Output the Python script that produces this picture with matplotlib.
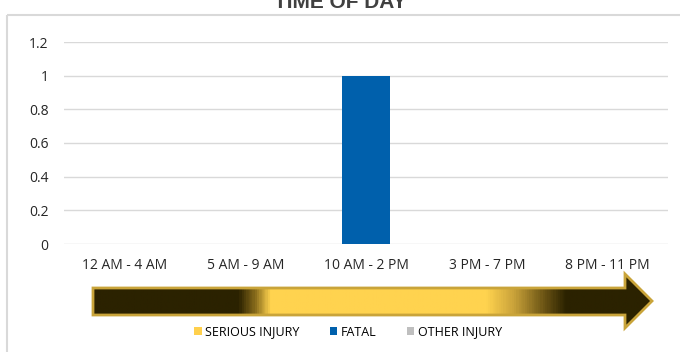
import numpy as np
import matplotlib.pyplot as plt
from matplotlib.patches import Polygon, Rectangle
from matplotlib.colors import LinearSegmentedColormap

categories = ['12 AM - 4 AM', '5 AM - 9 AM', '10 AM - 2 PM', '3 PM - 7 PM', '8 PM - 11 PM']
serious = [0, 0, 0, 0, 0]
fatal = [0, 0, 1, 0, 0]
other = [0, 0, 0, 0, 0]

plt.rcParams['font.family'] = ['Open Sans', 'DejaVu Sans']

fig = plt.figure(figsize=(6.8, 3.52), dpi=100)

# overlay in pixel coords for the frame, title and arrow
bg = fig.add_axes([0, 0, 1, 1], zorder=0)
bg.axis('off')
bg.add_patch(Rectangle((6.5, 14.5), 690, 360, fill=False, ec='#d9d9d9', lw=1.5))
bg.text(340, 2, 'TIME OF DAY', ha='center', va='center', fontsize=15,
        fontweight='bold', color='#404040', family='Liberation Sans')

# gradient arrow
x0, x1 = 93, 652
pts = [(x0, 288), (625, 288), (625, 274), (x1, 301), (625, 328), (625, 315), (x0, 315)]
bg.add_patch(Polygon(pts, closed=True, fc='none', ec='#c9a43a', lw=2, zorder=3))
dark = '#2b2200'
gold = '#ffd34f'
span = x1 - x0
stops = [(0.0, dark), ((238 - x0) / span, dark), ((255 - x0) / span, '#8a6d1c'),
         ((270 - x0) / span, gold), ((487 - x0) / span, gold), ((515 - x0) / span, '#c9a23a'),
         ((545 - x0) / span, '#6b5414'), ((567 - x0) / span, dark), (1.0, dark)]
cmap = LinearSegmentedColormap.from_list('tod', stops)
grad = np.linspace(0, 1, 600).reshape(1, -1)
im = bg.imshow(grad, cmap=cmap, extent=[x0, x1, 328, 274], aspect='auto', zorder=2)
im.set_clip_path(Polygon(pts, closed=True, transform=bg.transData))
bg.set_xlim(0, 680)
bg.set_ylim(352, 0)

ax = fig.add_axes([64 / 680, 108 / 352, 604 / 680, 202 / 352], zorder=1)
ax.patch.set_alpha(0)
x = np.arange(len(categories))
w = 0.4
ax.bar(x, serious, w, color='#ffd04d', label='SERIOUS INJURY')
ax.bar(x, fatal, w, color='#0060ac', label='FATAL')
ax.bar(x, other, w, color='#bfbfbf', label='OTHER INJURY')
ax.set_xlim(-0.5, len(categories) - 0.5)
ax.set_ylim(0, 1.2)
ax.set_yticks([0, 0.2, 0.4, 0.6, 0.8, 1, 1.2])
ax.set_yticklabels(['0', '0.2', '0.4', '0.6', '0.8', '1', '1.2'])
ax.set_xticks(x)
ax.set_xticklabels(categories)
ax.grid(axis='y', color='#d9d9d9', lw=1)
ax.set_axisbelow(True)
for s in ax.spines.values():
    s.set_visible(False)
ax.tick_params(length=0, labelsize=10, colors='#262626')
ax.tick_params(axis='y', pad=11)
ax.tick_params(axis='x', pad=10)

h, l = ax.get_legend_handles_labels()
fig.legend(h, l, loc='center', bbox_to_anchor=(348 / 680, 1 - 332 / 352), ncol=3,
           frameon=False, fontsize=9, handlelength=0.6, handleheight=0.6,
           columnspacing=2.4, handletextpad=0.3)

fig.savefig('out.png', dpi=100)
